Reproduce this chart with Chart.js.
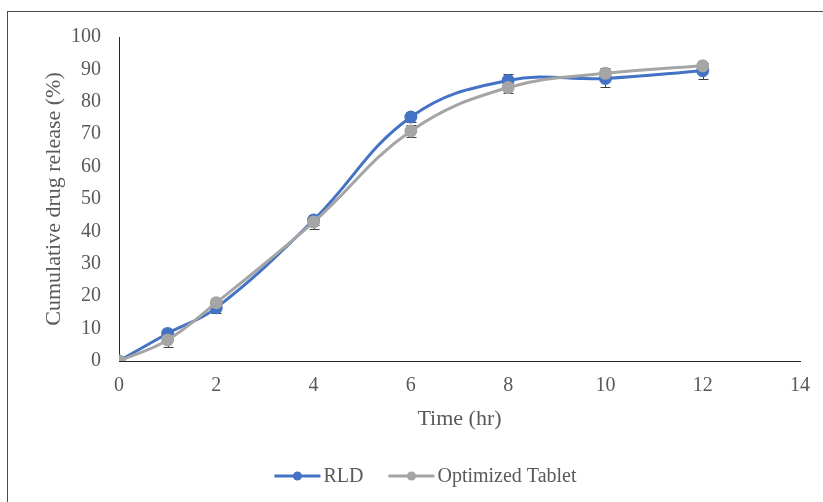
<!DOCTYPE html>
<html>
<head>
<meta charset="utf-8">
<script src="https://cdn.jsdelivr.net/npm/chart.js@4"></script>
<style>
  html, body { margin: 0; padding: 0; background: #fff; }
  #wrap { position: relative; width: 823px; height: 502px; overflow: hidden; }
  #frame { position: absolute; left: 7px; top: 11px; width: 900px; height: 600px; border: 1px solid #4a4a4a; box-sizing: border-box; }
  canvas { position: absolute; left: 0; top: 0; }
</style>
</head>
<body>
<div id="wrap">
  <div id="frame"></div>
  <canvas id="chart" width="823" height="502"></canvas>
</div>
<script>
// Sampling times (hr)
const timePoints = [0, 1, 2, 4, 6, 8, 10, 12];

// Cumulative release (%) and standard deviations
const rldRelease = [0, 8.5, 16.4, 43.5, 75.3, 86.6, 87.2, 89.6];
const rldSD      = [0, 1.4, 1.6, 1.6, 1.6, 2.1, 2.6, 2.5];
const optRelease = [0, 6.5, 18.0, 42.9, 71.0, 84.4, 88.8, 91.1];
const optSD      = [0, 2.2, 1.0, 2.2, 1.8, 1.6, 1.6, 0.8];

const xTicks = [0, 2, 4, 6, 8, 10, 12, 14];
const yTicks = [0, 10, 20, 30, 40, 50, 60, 70, 80, 90, 100];

const seriesNames = ['RLD', 'Optimized Tablet'];
const seriesColors = ['#4472C4', '#A5A5A5'];

const TEXT = '#595959';
const SERIF = '"Liberation Serif", "Times New Roman", serif';

const toPoints = (vals) => timePoints.map((t, i) => ({ x: t, y: vals[i] }));

// Vertical error bars with caps, drawn through the chart's own scales (under the markers)
const errorBars = {
  id: 'errorBars',
  beforeDatasetsDraw(chart) {
    const ctx = chart.ctx;
    const ys = chart.scales.y;
    const sds = [rldSD, optSD];
    ctx.save();
    ctx.strokeStyle = '#3f3f3f';
    ctx.lineWidth = 1;
    chart.data.datasets.forEach((ds, di) => {
      const meta = chart.getDatasetMeta(di);
      meta.data.forEach((pt, i) => {
        const sd = sds[di][i];
        if (!sd) return;
        const v = ds.data[i].y;
        const yt = Math.round(ys.getPixelForValue(v + sd)) + 0.5;
        const yb = Math.round(ys.getPixelForValue(v - sd)) + 0.5;
        const x = Math.round(pt.x) + 0.5;
        ctx.beginPath();
        ctx.moveTo(x, yt); ctx.lineTo(x, yb);
        ctx.moveTo(x - 5, yt); ctx.lineTo(x + 5, yt);
        ctx.moveTo(x - 5, yb); ctx.lineTo(x + 5, yb);
        ctx.stroke();
      });
    });
    ctx.restore();
  }
};

// Legend: line-with-marker sample followed by the series name
const lineLegend = {
  id: 'lineLegend',
  afterDraw(chart) {
    const ctx = chart.ctx;
    ctx.save();
    ctx.font = '20px ' + SERIF;
    ctx.textBaseline = 'middle';
    const sample = 46, gapText = 3, gapItem = 25;
    const widths = seriesNames.map(n => sample + gapText + ctx.measureText(n).width);
    const total = widths.reduce((a, b) => a + b, 0) + gapItem * (widths.length - 1);
    let x = chart.width / 2 + 14 - total / 2;
    const y = 476;
    seriesNames.forEach((name, i) => {
      ctx.strokeStyle = seriesColors[i];
      ctx.fillStyle = seriesColors[i];
      ctx.lineWidth = 3;
      ctx.beginPath();
      ctx.moveTo(x, y); ctx.lineTo(x + sample, y);
      ctx.stroke();
      ctx.beginPath();
      ctx.arc(x + sample / 2, y, 4.5, 0, Math.PI * 2);
      ctx.fill();
      ctx.fillStyle = TEXT;
      ctx.fillText(name, x + sample + gapText, y + 1);
      x += widths[i] + gapItem;
    });
    ctx.restore();
  }
};

new Chart(document.getElementById('chart'), {
  type: 'line',
  data: {
    datasets: [
      {
        label: seriesNames[0],
        data: toPoints(rldRelease),
        borderColor: seriesColors[0],
        backgroundColor: seriesColors[0],
        pointBackgroundColor: seriesColors[0],
        pointBorderColor: seriesColors[0],
        borderWidth: 3,
        pointRadius: 5,
        tension: 0.4,
        order: 2
      },
      {
        label: seriesNames[1],
        data: toPoints(optRelease),
        borderColor: seriesColors[1],
        backgroundColor: seriesColors[1],
        pointBackgroundColor: seriesColors[1],
        pointBorderColor: seriesColors[1],
        borderWidth: 3,
        pointRadius: 5,
        tension: 0.4,
        order: 1
      }
    ]
  },
  options: {
    responsive: false,
    animation: false,
    layout: { padding: { left: 37, top: 37, right: 23, bottom: 66 } },
    plugins: {
      legend: { display: false },
      tooltip: { enabled: false }
    },
    scales: {
      x: {
        type: 'linear',
        min: 0, max: 14,
        afterBuildTicks(scale) { scale.ticks = xTicks.map(v => ({ value: v })); },
        afterFit(scale) { scale.height = 75; },
        grid: { display: false, drawTicks: false },
        border: { display: true, color: '#262626', width: 1 },
        ticks: { color: TEXT, font: { family: SERIF, size: 20 }, padding: 13, maxRotation: 0 },
        title: { display: true, text: 'Time (hr)', color: TEXT, font: { family: SERIF, size: 22 } }
      },
      y: {
        min: 0, max: 100,
        afterBuildTicks(scale) { scale.ticks = yTicks.map(v => ({ value: v })); },
        afterFit(scale) { scale.width = 82; },
        grid: { display: false, drawTicks: false },
        border: { display: true, color: '#262626', width: 1 },
        ticks: { color: TEXT, font: { family: SERIF, size: 20 }, padding: 18 },
        title: { display: true, text: 'Cumulative drug release (%)', color: TEXT, font: { family: SERIF, size: 22 } }
      }
    }
  },
  plugins: [errorBars, lineLegend]
});
</script>
</body>
</html>
